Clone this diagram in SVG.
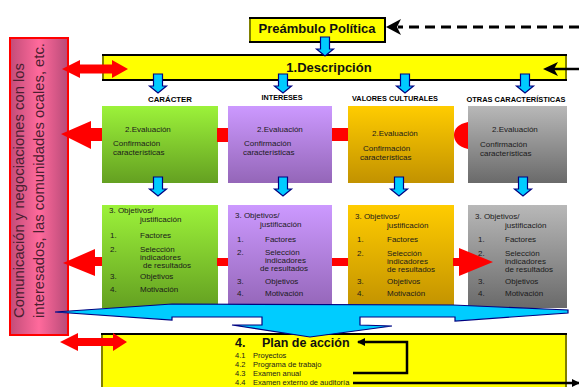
<svg xmlns="http://www.w3.org/2000/svg" xmlns:xlink="http://www.w3.org/1999/xlink" width="579" height="387" viewBox="0 0 579 387">
<style>
text{font-family:"Liberation Sans",Arial,sans-serif;fill:#1a1a1a}
.s{font-size:8px}
.h{font-size:8px;font-weight:bold;fill:#000}
.t{font-size:13px;font-weight:bold;fill:#111}
.p{font-size:7.5px}
.pk{font-size:14.5px;fill:#4a2030}
.red{fill:#ff0000}
.blu{fill:#00ccff;stroke:#000080;stroke-width:1.2}
.blk{fill:none;stroke:#000;stroke-width:2.5}
.yb{fill:#ffff00;stroke:#000;stroke-width:2}
.ol{stroke:#808000;stroke-width:2}
</style>
<defs>
<linearGradient id="gG" x1="0" y1="0" x2="0" y2="1"><stop offset="0" stop-color="#9cf23a"/><stop offset="1" stop-color="#64a021"/></linearGradient>
<linearGradient id="gP" x1="0" y1="0" x2="0" y2="1"><stop offset="0" stop-color="#cc99ff"/><stop offset="1" stop-color="#9466b8"/></linearGradient>
<linearGradient id="gY" x1="0" y1="0" x2="0" y2="1"><stop offset="0" stop-color="#ffcc00"/><stop offset="1" stop-color="#c29200"/></linearGradient>
<linearGradient id="gA" x1="0" y1="0" x2="0" y2="1"><stop offset="0" stop-color="#b8b8b8"/><stop offset="1" stop-color="#6a6a6a"/></linearGradient>
<linearGradient id="gK" x1="0" y1="0" x2="1" y2="0"><stop offset="0" stop-color="#c24c78"/><stop offset="0.5" stop-color="#ff6a9c"/><stop offset="1" stop-color="#b84a78"/></linearGradient>
<path id="barrow" d="M-4.5,0 H4.5 V12 H8.5 L0,19 L-8.5,12 H-4.5 Z"/>
<marker id="mk" markerWidth="8" markerHeight="8" refX="7" refY="4" orient="auto" markerUnits="userSpaceOnUse"><path d="M0,0 L8,4 L0,8 Z" fill="#000"/></marker>
</defs>

<g id="comunicacion">
<rect x="10" y="38" width="58" height="297" fill="url(#gK)" stroke="#ff0000" stroke-width="2"/>
<text class="pk" transform="translate(24,318) rotate(-90)" textLength="255" lengthAdjust="spacingAndGlyphs">Comunicación y negociaciones con los</text>
<text class="pk" transform="translate(44,318) rotate(-90)" textLength="275" lengthAdjust="spacingAndGlyphs">interesados, las comunidades ocales, etc.</text>
</g>

<g id="preambulo">
<rect class="yb" x="250" y="18" width="135" height="24"/>
<line class="ol" x1="250" y1="19" x2="250" y2="41"/>
<text class="t" x="317" y="33" text-anchor="middle">Preámbulo Política</text>
</g>

<g id="descripcion">
<rect class="yb" x="103" y="55" width="463" height="25"/>
<line class="ol" x1="103" y1="56" x2="103" y2="79"/>
<line class="ol" x1="566" y1="56" x2="566" y2="79"/>
<text class="t" x="329" y="72" text-anchor="middle">1.Descripción</text>
</g>

<g id="encabezados">
<text class="h" x="170" y="102" text-anchor="middle" textLength="44" lengthAdjust="spacingAndGlyphs">CARÁCTER</text>
<text class="h" x="282" y="100" text-anchor="middle" textLength="41" lengthAdjust="spacingAndGlyphs">INTERESES</text>
<text class="h" x="395" y="101" text-anchor="middle" textLength="86" lengthAdjust="spacingAndGlyphs">VALORES CULTURALES</text>
<text class="h" x="516" y="102" text-anchor="middle" textLength="99" lengthAdjust="spacingAndGlyphs">OTRAS CARACTERÍSTICAS</text>
</g>

<g id="eval-caracter">
<rect x="102" y="106" width="116" height="77" fill="url(#gG)"/>
<text class="s" x="125" y="132">2.Evaluación</text>
<text class="s" x="113" y="146">Confirmación</text>
<text class="s" x="113" y="155">características</text>
</g>
<g id="eval-intereses">
<rect x="228" y="106" width="104" height="77" fill="url(#gP)"/>
<text class="s" x="257" y="132">2.Evaluación</text>
<text class="s" x="244" y="146">Confirmación</text>
<text class="s" x="243" y="155">características</text>
</g>
<g id="eval-valores">
<rect x="348" y="106" width="106" height="77" fill="url(#gY)"/>
<text class="s" x="372" y="136">2.Evaluación</text>
<text class="s" x="363" y="151">Confirmación</text>
<text class="s" x="360" y="160">características</text>
</g>
<g id="eval-otras">
<rect x="468" y="106" width="99" height="77" fill="url(#gA)"/>
<text class="s" x="492" y="132">2.Evaluación</text>
<text class="s" x="480" y="147">Confirmación</text>
<text class="s" x="480" y="156">características</text>
</g>

<g id="obj-caracter">
<rect x="102" y="205" width="116" height="103" fill="url(#gG)"/>
<text class="s" x="109" y="213">3. Objetivos/</text>
<text class="s" x="140" y="222">justificación</text>
<text class="s" x="110" y="238">1.</text><text class="s" x="140" y="238">Factores</text>
<text class="s" x="110" y="252">2.</text><text class="s" x="140" y="252">Selección</text>
<text class="s" x="140" y="260">indicadores</text>
<text class="s" x="143" y="268">de resultados</text>
<text class="s" x="110" y="279">3.</text><text class="s" x="140" y="279">Objetivos</text>
<text class="s" x="110" y="292">4.</text><text class="s" x="140" y="292">Motivación</text>
</g>
<g id="obj-intereses">
<rect x="228" y="205" width="104" height="103" fill="url(#gP)"/>
<text class="s" x="235" y="218">3. Objetivos/</text>
<text class="s" x="260" y="227">justificación</text>
<text class="s" x="237" y="242">1.</text><text class="s" x="265" y="242">Factores</text>
<text class="s" x="237" y="255">2.</text><text class="s" x="265" y="255">Selección</text>
<text class="s" x="265" y="263">indicadores</text>
<text class="s" x="260" y="271">de resultados</text>
<text class="s" x="237" y="284">3.</text><text class="s" x="265" y="284">Objetivos</text>
<text class="s" x="237" y="296">4.</text><text class="s" x="265" y="296">Motivación</text>
</g>
<g id="obj-valores">
<rect x="348" y="205" width="106" height="103" fill="url(#gY)"/>
<text class="s" x="355" y="219">3. Objetivos/</text>
<text class="s" x="387" y="228">justificación</text>
<text class="s" x="357" y="242">1.</text><text class="s" x="387" y="242">Factores</text>
<text class="s" x="357" y="256">2.</text><text class="s" x="387" y="256">Selección</text>
<text class="s" x="387" y="264">indicadores</text>
<text class="s" x="387" y="272">de resultados</text>
<text class="s" x="357" y="284">3.</text><text class="s" x="387" y="284">Objetivos</text>
<text class="s" x="357" y="296">4.</text><text class="s" x="387" y="296">Motivación</text>
</g>
<g id="obj-otras">
<rect x="468" y="205" width="99" height="103" fill="url(#gA)"/>
<text class="s" x="475" y="219">3. Objetivos/</text>
<text class="s" x="505" y="228">justificación</text>
<text class="s" x="478" y="242">1.</text><text class="s" x="505" y="242">Factores</text>
<text class="s" x="478" y="256">2.</text><text class="s" x="505" y="256">Selección</text>
<text class="s" x="505" y="264">indicadores</text>
<text class="s" x="505" y="272">de resultados</text>
<text class="s" x="478" y="284">3.</text><text class="s" x="505" y="284">Objetivos</text>
<text class="s" x="478" y="296">4.</text><text class="s" x="505" y="296">Motivación</text>
</g>

<g id="plan">
<rect class="yb" x="102" y="334" width="464" height="60" stroke-width="1.5"/>
<line class="ol" x1="102" y1="335" x2="102" y2="387"/>
<line class="ol" x1="566" y1="335" x2="566" y2="387"/>
<text x="235" y="347" style="font-size:12.5px;font-weight:bold;fill:#111">4.</text>
<text x="262" y="347" style="font-size:12.5px;font-weight:bold;fill:#111">Plan de acción</text>
<text class="p" x="235" y="358">4.1</text><text class="p" x="253" y="358">Proyectos</text>
<text class="p" x="235" y="367">4.2</text><text class="p" x="253" y="367">Programa de trabajo</text>
<text class="p" x="235" y="376">4.3</text><text class="p" x="253" y="376">Examen anual</text>
<text class="p" x="235" y="385">4.4</text><text class="p" x="253" y="385">Examen externo de auditoría</text>
</g>

<g id="conectores">
<line x1="579" y1="27" x2="398" y2="27" stroke="#000" stroke-width="3" stroke-dasharray="10,6"/>
<path d="M386,27 L401,19 L397,27 L401,35 Z" fill="#000"/>
<line x1="579" y1="69" x2="552" y2="69" stroke="#000" stroke-width="2.5"/>
<path d="M543,69 L558,62 L554,69 L558,76 Z" fill="#000"/>
<polyline class="blk" points="353,373 407,373 407,342 358,342" stroke-width="2" marker-end="url(#mk)"/>
<line class="blk" x1="353" y1="383" x2="579" y2="383" stroke-width="2.5" marker-end="url(#mk)"/>

<use href="#barrow" class="blu" x="325" y="37"/>
<use href="#barrow" class="blu" x="158" y="74"/>
<use href="#barrow" class="blu" x="283" y="74"/>
<use href="#barrow" class="blu" x="405" y="74"/>
<use href="#barrow" class="blu" x="525" y="74"/>
<use href="#barrow" class="blu" x="158" y="177"/>
<use href="#barrow" class="blu" x="283" y="177"/>
<use href="#barrow" class="blu" x="399" y="177"/>
<use href="#barrow" class="blu" x="523" y="177"/>

<path class="red" d="M62,69 L80,60 L80,64.5 L112,64.5 L112,60 L128,69 L112,78 L112,73.5 L80,73.5 L80,78 Z"/>
<path class="red" d="M61,134 L91,121 L91,128 L102,128 L102,141 L91,141 L91,149 Z"/>
<rect class="red" x="217" y="128" width="11" height="14"/>
<rect class="red" x="332" y="128" width="16" height="13"/>
<path class="red" d="M468,122 C458,124 454,129 454,135 C454,141 458,147 468,149 Z"/>
<path class="red" d="M63,263 L95,249 L95,257 L102,257 L102,266 L95,266 L95,276 Z"/>
<rect class="red" x="217" y="258" width="11" height="8"/>
<rect class="red" x="332" y="258" width="16" height="8"/>
<path class="red" d="M453,258 L459,258 L459,248 L493,262 L459,276 L459,266 L453,266 Z"/>
<path class="red" d="M60,342 L78,333 L78,338 L113,338 L113,333 L127,342 L113,351 L113,346 L78,346 L78,351 Z"/>

<path class="blu" stroke-width="1.5" d="M55,312 L172,304 L453,305 L568,310 L568,313 L455,321 L455,317 L360,317 L360,325 L392,326 L310,337 L232,325 L262,325 L262,317 L172,317 L172,320 Z"/>
</g>
</svg>
